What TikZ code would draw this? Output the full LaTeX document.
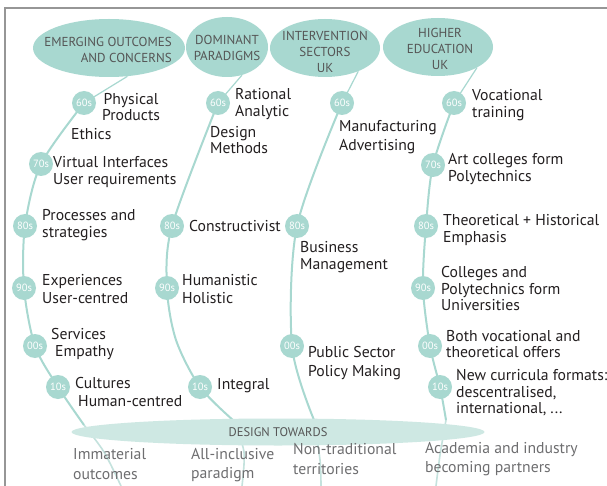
\documentclass[tikz,border=0pt]{standalone}
\usepackage{fontspec}
\setmainfont{PT Sans}
\usetikzlibrary{shapes.geometric}
\definecolor{tealA}{RGB}{168,216,208}
\definecolor{tealB}{RGB}{206,232,227}
\definecolor{tealC}{RGB}{196,226,221}
\definecolor{headtxt}{RGB}{85,85,85}
\definecolor{bodytxt}{RGB}{35,31,32}
\definecolor{bottxt}{RGB}{110,110,112}
\definecolor{framec}{RGB}{150,150,150}
\begin{document}
\begin{tikzpicture}[x=1pt,y=-1pt,
  headshape/.style={ellipse, fill=tealA, inner sep=0pt},
  headtext/.style={text=headtxt, font=\fontsize{13}{16}\selectfont, inner sep=0pt},
  dec/.style={circle, fill=tealA, text=white, font=\fontsize{10.5}{10.5}\selectfont, minimum size=24pt, inner sep=0pt},
  lab/.style={anchor=west, align=left, text=bodytxt, font=\fontsize{15.7}{16.5}\selectfont, inner sep=0pt},
  outc/.style={anchor=west, align=left, text=bottxt, font=\fontsize{15.7}{19.5}\selectfont, inner sep=0pt},
  tl/.style={draw=tealA, line width=2pt},
  tlthin/.style={draw=tealA, line width=1.2pt},
  tlf/.style={draw=tealC, line width=1.6pt}]
\useasboundingbox (0,0) rectangle (607,486);
\fill[white] (0,0) rectangle (607,486);
\draw[framec, line width=2pt] (5,486) -- (5,8.5) -- (607,8.5);

% header ellipses
\node[headshape, minimum width=152pt, minimum height=58pt] (h1) at (109,48) {};
\node[headshape, minimum width=82pt, minimum height=60pt] (h2) at (227,47) {};
\node[headshape, minimum width=110pt, minimum height=58pt] (h3) at (325,48) {};
\node[headshape, minimum width=110pt, minimum height=58pt] (h4) at (438,47) {};
\node[headtext, align=right] (h1t) at (108,50) {EMERGING OUTCOMES\\AND CONCERNS};
\node[headtext, align=center] (h2t) at (227,48) {DOMINANT\\PARADIGMS};
\node[headtext, align=center] (h3t) at (325,52) {INTERVENTION\\SECTORS\\UK};
\node[headtext, align=center] (h4t) at (440,49) {HIGHER\\EDUCATION\\UK};

% connector coordinates
\coordinate (e1) at (84,425);  \coordinate (m1) at (104,452); \coordinate (f1) at (121,486);
\coordinate (e2) at (234,421); \coordinate (m2) at (244,452); \coordinate (f2) at (242,486);
\coordinate (e3) at (314,420); \coordinate (m3) at (320,460); \coordinate (f3) at (321,486);
\coordinate (e4) at (446,420); \coordinate (m4) at (440,455); \coordinate (f4) at (436,486);
\coordinate (k2) at (176,340);

% decade positions
\path (84,103) coordinate (p1a) (41,164) coordinate (p1b) (25,226) coordinate (p1c)
      (24,288) coordinate (p1d) (35,346) coordinate (p1e) (58,387) coordinate (p1f);
\path (218,103) coordinate (p2a) (172,226) coordinate (p2c) (167,288) coordinate (p2d) (200,387) coordinate (p2f);
\path (342,103) coordinate (p3a) (297,226) coordinate (p3c) (292,346) coordinate (p3e);
\path (454,103) coordinate (p4a) (433,165) coordinate (p4b) (426,226) coordinate (p4c)
      (423,288) coordinate (p4d) (430,346) coordinate (p4e) (440,387) coordinate (p4f);

% faded lower continuation
\draw[tlf] plot[smooth] coordinates {(e1) (m1) (f1)};
\draw[tlf] plot[smooth] coordinates {(e2) (m2) (f2)};
\draw[tlf] plot[smooth] coordinates {(e3) (m3) (f3)};
\draw[tlf] plot[smooth] coordinates {(e4) (m4) (f4)};

% thin link from headers
\draw[tlthin] (h1.-57) -- (p1a);
\draw[tlthin] (h2.-62) -- (p2a);
\draw[tlthin] (h3.-35) -- (p3a);
\draw[tlthin] (h4.-28) -- (p4a);

% main timelines
\draw[tl] plot[smooth] coordinates {(p1a) (p1b) (p1c) (p1d) (p1e) (p1f) (e1)};
\draw[tl] plot[smooth] coordinates {(p2a) (p2c) (p2d) (k2) (p2f) (e2)};
\draw[tl] plot[smooth] coordinates {(p3a) (p3c) (p3e) (e3)};
\draw[tl] plot[smooth] coordinates {(p4a) (p4b) (p4c) (p4d) (p4e) (p4f) (e4)};

% design towards
\node[ellipse, fill=tealB, minimum width=413pt, minimum height=27pt, inner sep=0pt,
      text=headtxt, font=\fontsize{12.5}{12.5}\selectfont] (dt) at (278,432) {DESIGN TOWARDS};

% decade circles
\node[dec] (c1a) at (p1a) {60s};
\node[dec] (c1b) at (p1b) {70s};
\node[dec] (c1c) at (p1c) {80s};
\node[dec] (c1d) at (p1d) {90s};
\node[dec] (c1e) at (p1e) {00s};
\node[dec] (c1f) at (p1f) {10s};
\node[dec] (c2a) at (p2a) {60s};
\node[dec] (c2c) at (p2c) {80s};
\node[dec] (c2d) at (p2d) {90s};
\node[dec] (c2f) at (p2f) {10s};
\node[dec] (c3a) at (p3a) {60s};
\node[dec] (c3c) at (p3c) {80s};
\node[dec] (c3e) at (p3e) {00s};
\node[dec] (c4a) at (p4a) {60s};
\node[dec] (c4b) at (p4b) {70s};
\node[dec] (c4c) at (p4c) {80s};
\node[dec] (c4d) at (p4d) {90s};
\node[dec] (c4e) at (p4e) {00s};
\node[dec] (c4f) at (p4f) {10s};

% column 1 texts
\node[lab, anchor=center, align=center] (t1a) at (131,107) {Physical\\Products};
\node[lab] (t1b) at (71,134) {Ethics};
\node[lab] (t1c) at (53,172) {Virtual Interfaces\\User requirements};
\node[lab] (t1d) at (42,225) {Processes and\\strategies};
\node[lab] (t1e) at (42,289) {Experiences\\[2pt]User-centred};
\node[lab] (t1f) at (51,344) {Services\\\hspace*{4pt}Empathy};
\node[lab] (t1g) at (75,392) {Cultures\\[2pt]\hspace*{3pt}Human-centred};

% column 2 texts
\node[lab] (t2a) at (235,104) {Rational\\Analytic};
\node[lab] (t2b) at (210,140) {Design\\Methods};
\node[lab] (t2c) at (189,226) {Constructivist};
\node[lab] (t2d) at (182,289) {Humanistic\\[2pt]Holistic};
\node[lab] (t2e) at (217,386) {Integral};

% column 3 texts
\node[lab] (t3a) at (339,137) {Manufacturing\\[2pt]Advertising};
\node[lab] (t3b) at (300,257) {Business\\Management};
\node[lab] (t3c) at (308,363) {Public Sector\\[3pt]Policy Making};

% column 4 texts
\node[lab] (t4a) at (472,105) {Vocational\\training};
\node[lab] (t4b) at (448,169) {Art colleges form\\Polytechnics};
\node[lab] (t4c) at (443,230) {Theoretical + Historical\\Emphasis};
\node[lab] (t4d) at (441,289) {Colleges and\\Polytechnics form\\Universities};
\node[lab] (t4e) at (446,344) {Both vocational and\\theoretical offers};
\node[lab] (t4f) at (456,393) {New curricula formats:\\descentralised,\\international, ...};

% outcomes
\node[outc] (b1) at (73,464) {Immaterial\\outcomes};
\node[outc] (b2) at (191,465) {All-inclusive\\paradigm};
\node[outc] (b3) at (293,459) {Non-traditional\\territories};
\node[outc] (b4) at (425,459) {Academia and industry\\becoming partners};
\end{tikzpicture}
\end{document}
